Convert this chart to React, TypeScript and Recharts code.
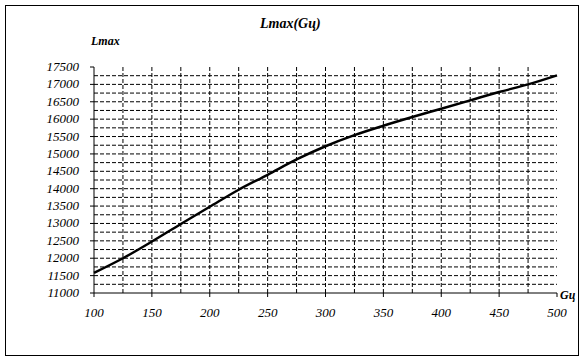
import React from "react";
import { LineChart, Line, XAxis, YAxis, CartesianGrid } from "recharts";

const gValues = [100, 125, 150, 175, 200, 225, 250, 275, 300, 325, 350, 375, 400, 425, 450, 475, 500];
const lmaxValues = [11580, 12000, 12480, 12985, 13480, 13970, 14400, 14840, 15220, 15540, 15810, 16060, 16300, 16540, 16780, 17000, 17260];
const xTicks = [100, 150, 200, 250, 300, 350, 400, 450, 500];
const yTicks = [11000, 11500, 12000, 12500, 13000, 13500, 14000, 14500, 15000, 15500, 16000, 16500, 17000, 17500];
const xGrid = [125, 150, 175, 200, 225, 250, 275, 300, 325, 350, 375, 400, 425, 450, 475];
const yGrid = [11250, 11500, 11750, 12000, 12250, 12500, 12750, 13000, 13250, 13500, 13750, 14000, 14250, 14500, 14750, 15000, 15250, 15500, 15750, 16000, 16250, 16500, 16750, 17000, 17250];

const data = gValues.map((g, i) => ({ g, lmax: lmaxValues[i] }));

const FONT = "'Liberation Serif', 'Times New Roman', serif";

const XTick = (props: any) => {
  const { x, y, payload } = props;
  return (
    <text
      x={x}
      y={y + 12}
      textAnchor="middle"
      style={{ fontFamily: FONT, fontStyle: "italic", fontSize: 13, fill: "#000" }}
    >
      {payload.value}
    </text>
  );
};

const YTick = (props: any) => {
  const { x, y, payload } = props;
  return (
    <text
      x={x - 3}
      y={y + 4}
      textAnchor="end"
      style={{ fontFamily: FONT, fontStyle: "italic", fontSize: 13, fill: "#000" }}
    >
      {payload.value}
    </text>
  );
};

export default function App() {
  return (
    <div style={{ position: "absolute", left: 0, top: 0, width: 585, height: 361, background: "#fff" }}>
      <div
        style={{
          position: "absolute",
          left: 5,
          top: 5,
          width: 572,
          height: 349,
          border: "1px solid #000",
          boxSizing: "content-box",
        }}
      />
      <LineChart
        width={585}
        height={361}
        data={data}
        margin={{ top: 67, right: 28, bottom: 38, left: 0 }}
        style={{ position: "absolute", left: 0, top: 0 }}
      >
        <CartesianGrid
          stroke="#000"
          strokeDasharray="4 2"
          strokeWidth={1}
          horizontalValues={yGrid}
          verticalValues={xGrid}
        />
        <XAxis
          dataKey="g"
          type="number"
          domain={[100, 500]}
          ticks={xTicks}
          height={30}
          tickSize={4}
          tickMargin={8}
          stroke="#000"
          tickLine={{ stroke: "#000" }}
          axisLine={{ stroke: "#000" }}
          tick={<XTick />}
          interval={0}
        />
        <YAxis
          type="number"
          domain={[11000, 17500]}
          ticks={yTicks}
          width={94}
          tickSize={4}
          tickMargin={8}
          stroke="#000"
          tickLine={{ stroke: "#000" }}
          axisLine={{ stroke: "#000" }}
          tick={<YTick />}
          interval={0}
        />
        <Line
          dataKey="lmax"
          type="monotone"
          stroke="#000"
          strokeWidth={2.5}
          dot={false}
          isAnimationActive={false}
        />
      </LineChart>
      <div
        style={{
          position: "absolute",
          left: 260,
          top: 15,
          fontFamily: FONT,
          fontStyle: "italic",
          fontWeight: "bold",
          fontSize: 14,
          lineHeight: "18px",
        }}
      >
        Lmax(Gц)
      </div>
      <div
        style={{
          position: "absolute",
          left: 91,
          top: 33,
          fontFamily: FONT,
          fontStyle: "italic",
          fontWeight: "bold",
          fontSize: 12,
          lineHeight: "16px",
        }}
      >
        Lmax
      </div>
      <div
        style={{
          position: "absolute",
          left: 560,
          top: 287,
          fontFamily: FONT,
          fontStyle: "italic",
          fontWeight: "bold",
          fontSize: 12,
          lineHeight: "16px",
        }}
      >
        Gц
      </div>
    </div>
  );
}
